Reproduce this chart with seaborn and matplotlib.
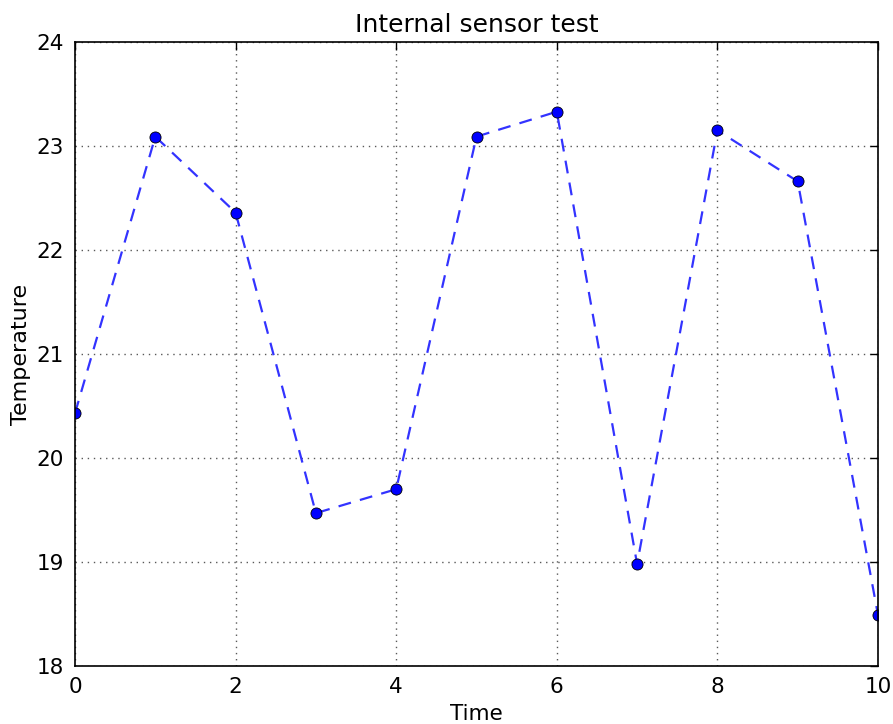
import matplotlib
matplotlib.use("Agg")
import matplotlib.pyplot as plt
import seaborn as sns
import pandas as pd

time = [0, 1, 2, 3, 4, 5, 6, 7, 8, 9, 10]
temperature = [20.43, 23.09, 22.36, 19.47, 19.70, 23.09, 23.33, 18.98, 23.15, 22.66, 18.49]
x_ticks = [0, 2, 4, 6, 8, 10]
y_ticks = [18, 19, 20, 21, 22, 23, 24]

sns.set_style("white")
plt.rcParams['font.family'] = ['DejaVu Sans']
plt.rcParams['text.color'] = 'black'
plt.rcParams['axes.labelcolor'] = 'black'

df = pd.DataFrame({"Time": time, "Temperature": temperature})

fig = plt.figure(figsize=(8.93, 7.24), dpi=100)
ax = fig.add_axes([75/893, 58/724, 803/893, 624/724])

sns.lineplot(data=df, x="Time", y="Temperature", ax=ax, color="#3333ff",
             linewidth=1.6, marker="o", markersize=8,
             markerfacecolor="blue", markeredgecolor="black",
             markeredgewidth=0.6)
for ln in ax.lines:
    ln.set_dashes([5.8, 4.2])

ax.set_xlim(0, 10)
ax.set_ylim(18, 24)
ax.set_xticks(x_ticks)
ax.set_yticks(y_ticks)
ax.grid(True, color="0.35", linewidth=1, dashes=(1, 3.4))
for s in ax.spines.values():
    s.set_color("black")
    s.set_linewidth(1.2)
ax.tick_params(direction="in", length=6, width=1, top=True, right=True,
               labelsize=15.5, colors="black", pad=8)
ax.set_title("Internal sensor test", fontsize=18, pad=7, color="black")
ax.set_xlabel("Time", fontsize=15.5, labelpad=5, color="black")
ax.set_ylabel("Temperature", fontsize=16, labelpad=4, color="black")

fig.savefig("out.png", dpi=100)
